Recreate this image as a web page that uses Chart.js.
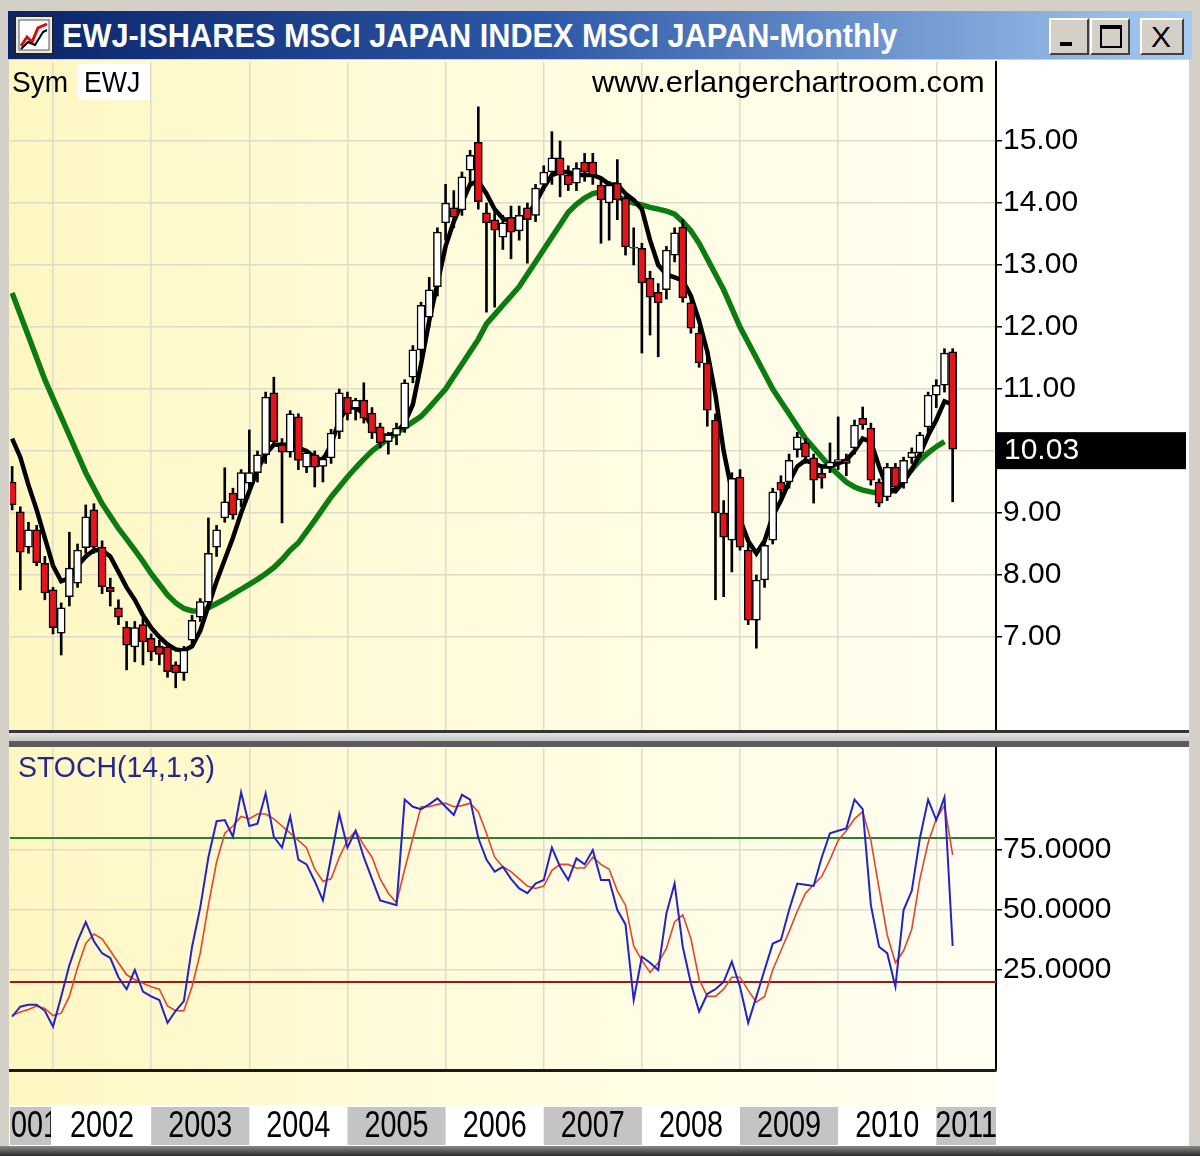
<!DOCTYPE html>
<html>
<head>
<meta charset="utf-8">
<script src="https://cdn.jsdelivr.net/npm/chart.js@4.4.1/dist/chart.umd.min.js"></script>
<style>
  html, body { margin: 0; padding: 0; }
  body { width: 1200px; height: 1156px; position: relative; overflow: hidden; background: #d4d0c8;
         font-family: 'Liberation Sans', Arial, sans-serif; }
  #titlebar { position: absolute; left: 8px; top: 11px; width: 1184px; height: 48px;
              background: linear-gradient(to right, #0a246a 0%, #2d58a8 45%, #a6caf0 100%); }
  #icon { position: absolute; left: 14px; top: 15px; }
  .txt { position: absolute; white-space: nowrap; transform-origin: left center; }
  #title { left: 62px; top: 14px; color: #fff; font-weight: bold; font-size: 34px; line-height: 42px; }
  .btn { position: absolute; top: 18px; height: 37px; background: #d4d0c8; box-sizing: border-box;
         border: 2px solid; border-color: #fff #404040 #404040 #fff; }
  #content { position: absolute; left: 9px; top: 60px; width: 1180px; height: 1086px;
             background: linear-gradient(to right, #fff7c2 0px, #fffbdc 450px, #fffff2 987px, #ffffff 987px); }
  #labelrow { position: absolute; left: 9px; top: 1105px; width: 1180px; height: 41px; background: #fff; }
  #sep { position: absolute; left: 9px; top: 730px; width: 1180px; height: 17px; box-sizing: border-box;
         background: linear-gradient(#e4e4e4, #c4c4c4); border-top: 3px solid #353535;
         border-bottom: 6px solid #5c5c5c; z-index: 4; }
  #bottom { position: absolute; left: 0; top: 1146px; width: 1200px; height: 10px;
            background: linear-gradient(#8a8a8a, #2a2a2a); }
  canvas { position: absolute; left: 0; }
  #price { top: 60px; }
  #stoch { top: 745px; }
  #ewjbox { position: absolute; left: 78px; top: 64px; width: 72px; height: 36px; background: #fff; }
  .over { z-index: 5; }
</style>
</head>
<body>
<div id="titlebar"></div>
<svg id="icon" width="40" height="40">
  <rect x="1" y="1" width="38" height="38" fill="#e8e8e8" stroke="#222" stroke-width="2"/>
  <rect x="5" y="5" width="30" height="30" fill="#fff" stroke="#555" stroke-width="1"/>
  <polyline points="7,31 13,22 18,27 24,13 33,9" stroke="#d01010" stroke-width="3" fill="none"/>
  <polyline points="7,34 14,27 21,30 29,17 33,15" stroke="#000" stroke-width="2" fill="none"/>
</svg>
<div id="title" class="txt over">EWJ-ISHARES MSCI JAPAN INDEX MSCI JAPAN-Monthly</div>
<div class="btn" style="left:1049px; width:40px;"><div style="position:absolute; left:9px; top:22px; width:12px; height:4px; background:#000;"></div></div>
<div class="btn" style="left:1090px; width:40px;"><div style="position:absolute; left:8px; top:5px; border:2px solid #000; border-top-width:4px; box-sizing:border-box; width:22px; height:23px;"></div></div>
<div class="btn" style="left:1140px; width:44px;"><div style="position:absolute; left:9px; top:0px; font-size:30px; line-height:33px; color:#000;">X</div></div>

<div id="content"></div>
<div id="labelrow"></div>
<div id="ewjbox"></div>
<canvas id="price" width="1190" height="674"></canvas>
<div id="sep"></div>
<canvas id="stoch" width="1190" height="401"></canvas>
<div id="bottom"></div>

<div id="sym" class="txt over" style="left:12px; top:64px; font-size:30px; line-height:36px;">Sym</div>
<div id="ewj" class="txt over" style="left:84px; top:64px; font-size:30px; line-height:36px;">EWJ</div>
<div id="www" class="txt over" style="left:592px; top:64px; font-size:30px; line-height:36px;">www.erlangerchartroom.com</div>
<div id="stochname" class="txt over" style="left:18px; top:750px; font-size:30px; line-height:34px; color:#28288c;">STOCH(14,1,3)</div>

<script>
// monthly candles, Aug 2001 .. Mar 2011 (index 0 = Aug 2001)
const opens = [
  9.50, 9.02, 8.45, 8.73, 8.19, 7.76, 7.06, 7.65, 7.87, 8.44,
  9.05, 8.45, 7.80, 7.47, 7.16, 6.84, 7.20, 6.98, 6.85, 6.84,
  6.55, 6.42, 6.95, 7.32, 7.56, 8.45, 8.92, 9.32, 9.21, 9.48,
  9.65, 9.94, 10.94, 10.10, 9.98, 10.55, 9.74, 9.94, 9.75, 9.89,
  10.31, 10.87, 10.69, 10.82, 10.61, 10.39, 10.15, 10.25, 10.37, 11.19,
  11.63, 12.16, 12.65, 13.68, 13.92, 13.89, 14.53, 14.98, 13.84, 13.73,
  13.45, 13.77, 13.55, 13.92, 13.80, 14.30, 14.50, 14.73, 14.45, 14.32,
  14.66, 14.66, 14.29, 14.00, 14.32, 14.08, 13.29, 13.27, 12.79, 12.56,
  12.60, 13.16, 13.61, 12.39, 11.90, 11.42, 10.50, 9.00, 8.56, 9.58,
  8.40, 7.27, 7.92, 8.56, 9.50, 9.50, 10.02, 10.13, 9.89, 9.64,
  9.74, 9.82, 9.86, 10.05, 10.53, 10.37, 9.50, 9.26, 9.74, 9.48,
  9.89, 9.97, 10.39, 10.90, 11.06, 11.60
];
const highs = [
  9.75, 9.10, 8.85, 8.80, 8.30, 7.80, 7.55, 8.69, 8.50, 9.13,
  9.15, 8.55, 7.95, 7.60, 7.25, 7.25, 7.30, 7.05, 6.95, 6.90,
  6.60, 6.85, 7.35, 7.62, 8.92, 8.80, 9.73, 9.40, 9.70, 10.34,
  10.00, 10.95, 11.19, 10.20, 10.65, 10.60, 10.02, 10.00, 9.92, 10.35,
  11.00, 10.95, 10.85, 11.10, 10.70, 10.45, 10.30, 10.45, 11.15, 11.70,
  12.40, 12.80, 13.60, 14.30, 14.20, 14.50, 14.85, 15.55, 14.00, 13.90,
  13.80, 13.95, 13.95, 14.00, 14.30, 14.60, 15.15, 15.00, 14.60, 14.65,
  14.80, 14.80, 14.40, 14.35, 14.70, 14.15, 13.60, 13.35, 12.90, 12.70,
  13.30, 13.60, 13.73, 12.50, 12.00, 11.50, 10.60, 9.20, 9.65, 9.70,
  8.50, 8.00, 8.55, 9.40, 9.60, 9.95, 10.30, 10.20, 9.95, 9.75,
  10.13, 10.55, 9.95, 10.50, 10.71, 10.45, 9.55, 9.80, 9.80, 9.90,
  10.05, 10.30, 10.95, 11.15, 11.65, 11.65
];
const lows = [
  9.05, 7.76, 8.35, 8.15, 7.60, 7.05, 6.71, 7.50, 7.80, 8.35,
  8.35, 7.70, 7.50, 7.20, 6.47, 6.60, 6.55, 6.62, 6.55, 6.35,
  6.18, 6.30, 6.85, 7.25, 7.50, 8.30, 8.85, 8.90, 9.10, 9.40,
  9.50, 9.80, 10.10, 8.84, 9.90, 9.70, 9.65, 9.42, 9.50, 9.80,
  10.20, 10.50, 10.50, 10.45, 10.20, 10.05, 9.95, 10.10, 10.30, 11.10,
  11.50, 12.00, 12.50, 13.40, 13.60, 13.80, 14.30, 13.90, 12.24, 12.32,
  13.25, 13.10, 13.40, 13.03, 13.70, 14.20, 14.30, 14.10, 14.20, 14.20,
  14.35, 14.30, 13.35, 13.40, 13.73, 13.16, 13.00, 11.58, 11.87, 11.52,
  12.45, 13.05, 12.40, 11.90, 11.35, 10.40, 7.60, 7.65, 8.05, 8.40,
  7.20, 6.82, 7.80, 8.50, 9.20, 9.40, 9.90, 9.80, 9.16, 9.40,
  9.65, 9.70, 9.60, 9.95, 10.35, 9.45, 9.10, 9.20, 9.35, 9.40,
  9.80, 9.90, 10.30, 10.70, 10.95, 9.18
];
const closes = [
  9.13, 8.37, 8.73, 8.20, 7.71, 7.15, 7.47, 8.11, 8.40, 8.94,
  8.45, 7.81, 7.73, 7.32, 6.87, 7.15, 6.92, 6.76, 6.72, 6.44,
  6.42, 6.79, 7.27, 7.57, 8.35, 8.73, 9.18, 8.97, 9.65, 9.65,
  9.94, 10.87, 10.15, 9.98, 10.60, 9.85, 9.97, 9.74, 9.87, 10.29,
  10.94, 10.60, 10.82, 10.53, 10.29, 10.13, 10.26, 10.37, 11.10, 11.63,
  12.35, 12.60, 13.53, 14.00, 13.77, 14.42, 14.77, 14.02, 13.68, 13.56,
  13.68, 13.53, 13.80, 13.73, 14.24, 14.50, 14.73, 14.45, 14.29, 14.56,
  14.50, 14.45, 14.05, 14.29, 14.05, 13.29, 13.27, 12.71, 12.48, 12.39,
  13.24, 13.52, 12.47, 11.98, 11.42, 10.66, 9.00, 8.61, 9.56, 8.45,
  7.27, 7.92, 8.48, 9.34, 9.37, 9.85, 10.23, 9.90, 9.53, 9.56,
  9.82, 9.86, 9.80, 10.42, 10.42, 9.53, 9.16, 9.74, 9.42, 9.85,
  9.98, 10.26, 10.90, 11.06, 11.58, 10.03
];
// black (short) and green (long) moving averages
const avgShort = [
  10.20, 9.90, 9.45, 9.05, 8.60, 8.15, 7.90, 7.95, 8.15, 8.30,
  8.40, 8.40, 8.30, 8.05, 7.80, 7.60, 7.35, 7.15, 7.00, 6.88,
  6.80, 6.78, 6.85, 7.10, 7.50, 7.90, 8.25, 8.60, 9.00, 9.35,
  9.70, 9.95, 10.10, 10.10, 10.10, 10.05, 10.00, 9.90, 9.85, 10.10,
  10.50, 10.70, 10.70, 10.60, 10.40, 10.25, 10.25, 10.30, 10.45, 10.75,
  11.40, 12.10, 12.70, 13.30, 13.70, 14.00, 14.30, 14.35, 14.15, 13.90,
  13.75, 13.70, 13.75, 13.80, 14.00, 14.25, 14.45, 14.50, 14.50, 14.45,
  14.45, 14.45, 14.40, 14.30, 14.30, 14.15, 14.05, 13.90, 13.40, 13.00,
  12.85, 12.80, 12.75, 12.50, 12.10, 11.60, 10.90, 10.00, 9.35, 8.90,
  8.55, 8.35, 8.55, 8.95, 9.20, 9.50, 9.75, 9.85, 9.80, 9.75,
  9.75, 9.80, 9.85, 10.00, 10.20, 10.15, 9.75, 9.40, 9.35, 9.50,
  9.70, 9.95, 10.25, 10.50, 10.80, 10.75
];
const avgLong = [
  12.55, 12.20, 11.85, 11.50, 11.15, 10.85, 10.55, 10.25, 9.95, 9.65,
  9.40, 9.15, 8.95, 8.75, 8.58, 8.40, 8.22, 8.02, 7.85, 7.68,
  7.55, 7.46, 7.42, 7.42, 7.47, 7.54, 7.61, 7.69, 7.77, 7.85,
  7.93, 8.02, 8.12, 8.25, 8.40, 8.52, 8.70, 8.88, 9.07, 9.26,
  9.42, 9.58, 9.73, 9.87, 10.00, 10.10, 10.20, 10.29, 10.38, 10.47,
  10.56, 10.70, 10.85, 11.00, 11.20, 11.40, 11.60, 11.80, 12.05, 12.20,
  12.35, 12.50, 12.65, 12.85, 13.05, 13.25, 13.45, 13.65, 13.85, 13.98,
  14.08, 14.15, 14.18, 14.15, 14.10, 14.05, 14.00, 13.97, 13.93, 13.90,
  13.87, 13.82, 13.70, 13.55, 13.35, 13.10, 12.85, 12.60, 12.30, 12.00,
  11.75, 11.50, 11.25, 11.00, 10.80, 10.60, 10.40, 10.20, 10.05, 9.90,
  9.75, 9.62, 9.50, 9.42, 9.37, 9.34, 9.32, 9.32, 9.38, 9.55,
  9.70, 9.85, 9.97, 10.07, 10.15, null
];
// STOCH(14,1,3): blue %K, red %D
const stochK = [
  5.6, 9.7, 10.5, 10.5, 8, 1.4, 14, 27, 37, 45,
  37, 32, 30, 22, 17, 25, 16, 14, 12.5, 3,
  8, 12, 34.7, 51, 72, 87, 87.5, 80.5, 99, 85,
  86, 98.6, 80.5, 76, 89, 71, 69, 62, 54, 72,
  90, 76, 83, 72, 63, 54, 53, 52, 96, 93,
  92, 94, 96.5, 93, 89.6, 98, 96, 80, 71, 66,
  68, 63, 59, 57, 61, 62.5, 76, 68, 62.5, 71.5,
  69, 75, 62.5, 62.5, 50, 44, 12.5, 30.5, 28, 25,
  48.6, 61, 34.7, 19.4, 7.6, 15, 17, 20, 28.5, 18,
  3, 13.9, 25, 36, 37.5, 50, 61, 60.5, 60, 72,
  82, 83, 84, 96, 92, 52, 34.7, 32, 18, 50,
  58, 80, 96, 87.5, 97, 35
];
const stochD = [
  6, 7.5, 8.5, 10, 9, 6, 7, 14, 26, 36,
  40, 38, 33, 28, 23, 21, 19.5, 18, 17, 10,
  8, 8, 18, 32, 52, 70, 82, 85, 89, 88,
  90, 90, 88, 85, 82, 79, 76, 67, 62, 63,
  72, 79, 83, 77, 72, 63, 57, 53, 67, 80,
  93, 93, 94, 94.5, 93, 93.5, 94.5, 91, 82, 72,
  68, 66, 63, 60, 59, 60, 66.5, 69, 69, 67.5,
  67.5, 72, 69, 67, 58, 52, 35, 29, 24, 28,
  34, 45, 48, 38, 21, 14, 14, 17, 22, 22,
  16.5, 11.6, 14, 25, 33, 41, 49.5, 57, 60.5, 64,
  71, 79, 83, 88, 91, 79, 59, 39.6, 28, 33,
  42, 63, 78, 88, 93.5, 73
];
const priceTicks = [7, 8, 9, 10, 11, 12, 13, 14, 15];
const stochTicks = [25, 50, 75];
const stochLevels = [80, 20];
const levelColors = ['#2f7d2f', '#9a1a1a'];
const yearLabels = ['2001', '2002', '2003', '2004', '2005', '2006', '2007', '2008', '2009', '2010', '2011'];
const yearStarts = [-7, 5, 17, 29, 41, 53, 65, 77, 89, 101, 113];

const FONT = "'Liberation Sans', Arial, sans-serif";
Chart.defaults.font.family = FONT;
const gridColor = '#dcdccb';

function monthAxis(extra) {
  return Object.assign({
    type: 'linear', min: -0.26, max: 120.3, offset: false,
    afterBuildTicks: s => { s.ticks = yearStarts.slice(1).map(v => ({ value: v })); },
    ticks: { display: false },
    grid: { color: gridColor, lineWidth: 1.5, drawTicks: false, offset: false },
    border: { display: false }
  }, extra);
}

function valueAxis(min, max, ticks, digits) {
  return {
    position: 'right', min: min, max: max,
    afterBuildTicks: s => { s.ticks = ticks.map(v => ({ value: v })); },
    // fixed axis width, and no extra room reserved for the end labels
    afterFit: s => { s.width = 194; s.paddingTop = 0; s.paddingBottom = 0; },
    ticks: { color: '#000', font: { size: 30 }, padding: 1, autoSkip: false,
             callback: v => Number(v).toFixed(digits) },
    grid: { color: gridColor, lineWidth: 1.5, tickColor: '#000', tickLength: 6 },
    border: { display: true, color: '#000', width: 2 }
  };
}

// black box with the last close on the price axis
const lastPriceTag = {
  id: 'lastPriceTag',
  afterDraw(chart) {
    const { ctx, chartArea } = chart;
    const last = closes[closes.length - 1];
    const y = chart.scales.y.getPixelForValue(last);
    ctx.save();
    ctx.fillStyle = '#000';
    ctx.fillRect(chartArea.right + 1, y - 17, 189, 37);
    ctx.fillStyle = '#fff';
    ctx.font = '30px ' + FONT;
    ctx.textBaseline = 'middle';
    ctx.fillText(last.toFixed(2), chartArea.right + 8, y + 2);
    ctx.restore();
  }
};

// overbought / oversold lines on the stochastic
const levelLines = {
  id: 'levelLines',
  beforeDatasetsDraw(chart) {
    const { ctx, chartArea } = chart;
    ctx.save();
    ctx.lineWidth = 2;
    stochLevels.forEach((v, i) => {
      const py = chart.scales.y.getPixelForValue(v);
      ctx.strokeStyle = levelColors[i];
      ctx.beginPath();
      ctx.moveTo(chartArea.left, py);
      ctx.lineTo(chartArea.right, py);
      ctx.stroke();
    });
    ctx.restore();
  }
};

// year boxes under the lower panel
const yearBoxes = {
  id: 'yearBoxes',
  afterDraw(chart) {
    const { ctx, chartArea } = chart;
    const x = chart.scales.x;
    const top = chartArea.bottom + 37, h = 38;
    ctx.save();
    ctx.font = '37px ' + FONT;
    const w = 64;
    const sx = w / ctx.measureText('2002').width;
    yearLabels.forEach((lab, i) => {
      const a0 = x.getPixelForValue(yearStarts[i]);
      const a = Math.max(a0, chartArea.left);
      let b = Math.min(x.getPixelForValue(yearStarts[i] + 12), chartArea.right);
      const cut = a0 < chartArea.left;
      if (cut) b -= 2;
      if (i % 2 === 0) {
        ctx.fillStyle = '#c4c4c4';
        ctx.fillRect(a, top, b - a, h);
      }
      // a label cut by the left edge keeps its tail visible
      const cx = cut ? b - 24 : (a + b) / 2;
      ctx.save();
      ctx.beginPath();
      ctx.rect(a, top, b - a, h);
      ctx.clip();
      ctx.translate(cx, top + h / 2 + 1);
      ctx.scale(sx, 1);
      ctx.fillStyle = '#000';
      ctx.textAlign = 'center';
      ctx.textBaseline = 'middle';
      ctx.fillText(lab, 0, 0);
      ctx.restore();
    });
    ctx.restore();
  }
};

new Chart(document.getElementById('price'), {
  type: 'bar',
  data: {
    datasets: [
      { type: 'line', data: avgLong.map((v, i) => ({ x: i, y: v })), borderColor: '#0b7c10',
        borderWidth: 5.5, pointRadius: 0, order: 4 },
      { type: 'line', data: avgShort.map((v, i) => ({ x: i, y: v })), borderColor: '#000',
        borderWidth: 4.5, pointRadius: 0, order: 3 },
      { type: 'bar', data: lows.map((l, i) => ({ x: i, y: [l, highs[i]] })), backgroundColor: '#000',
        barThickness: 2, grouped: false, order: 2 },
      { type: 'bar', data: opens.map((o, i) => ({ x: i, y: [o, closes[i]] })),
        backgroundColor: opens.map((o, i) => closes[i] < o ? '#e3141c' : '#ffffff'),
        borderColor: '#000', borderWidth: 1.5, borderSkipped: false,
        barThickness: 8, grouped: false, order: 1 }
    ]
  },
  options: {
    responsive: false, animation: false,
    layout: { padding: { left: 10, top: 2, right: 0, bottom: 3 } },
    plugins: { legend: { display: false }, tooltip: { enabled: false } },
    scales: {
      x: monthAxis({ afterFit: s => { s.height = 0; } }),
      y: valueAxis(5.484, 16.274, priceTicks, 2)
    }
  },
  plugins: [lastPriceTag]
});

new Chart(document.getElementById('stoch'), {
  type: 'line',
  data: {
    datasets: [
      { data: stochD.map((v, i) => ({ x: i, y: v })), borderColor: '#e2452f', borderWidth: 1.6,
        pointRadius: 0, order: 2 },
      { data: stochK.map((v, i) => ({ x: i, y: v })), borderColor: '#2323c6', borderWidth: 2,
        pointRadius: 0, order: 1 }
    ]
  },
  options: {
    responsive: false, animation: false,
    layout: { padding: { left: 10, top: 3, right: 0, bottom: 0 } },
    plugins: { legend: { display: false }, tooltip: { enabled: false } },
    scales: {
      x: monthAxis({ afterFit: s => { s.height = 76; },
                     border: { display: true, color: '#1a1a1a', width: 3 } }),
      y: valueAxis(-16.67, 117.5, stochTicks, 4)
    }
  },
  plugins: [levelLines, yearBoxes]
});

// squeeze overlay texts to the widths seen in the picture
function fit(id, w) {
  const el = document.getElementById(id);
  el.style.transform = 'scaleX(' + (w / el.scrollWidth) + ')';
}
fit('title', 835);
fit('sym', 56);
fit('ewj', 56);
fit('www', 393);
fit('stochname', 197);
</script>
</body>
</html>
